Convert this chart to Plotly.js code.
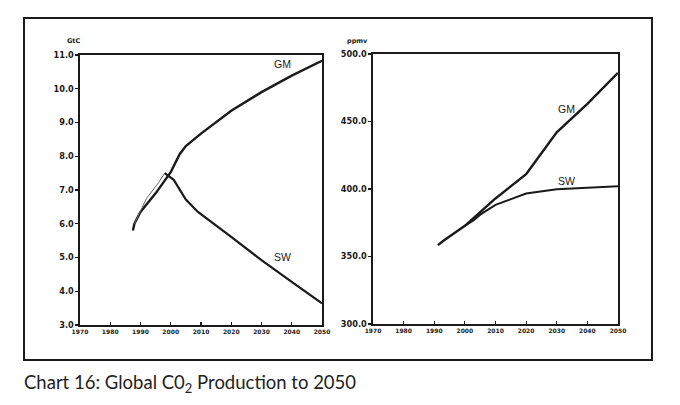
<!DOCTYPE html>
<html>
<head>
<meta charset="utf-8">
<script src="https://cdn.plot.ly/plotly-3.0.1.min.js"></script>
<style>
  html, body { margin: 0; padding: 0; background: #fff; }
  #chart { width: 680px; height: 405px; }
</style>
</head>
<body>
<div id="chart"></div>
<script>
// Left panel: emissions, GtC
var yearsGmLeft = [1987.5, 1988, 1990, 1995, 2000, 2003, 2005, 2010, 2020, 2030, 2040, 2050];
var gmLeft = [5.8, 6.0, 6.35, 6.9, 7.53, 8.07, 8.3, 8.67, 9.35, 9.9, 10.39, 10.83];
var yearsSwLeft = [1988, 1992, 1996, 1998, 2001, 2005, 2009, 2020, 2030, 2040, 2050];
var swLeft = [6.0, 6.75, 7.22, 7.5, 7.3, 6.72, 6.35, 5.61, 4.92, 4.28, 3.64];

// Right panel: concentration, ppmv
var yearsGmRight = [1991.2, 1993, 2000, 2010, 2020, 2021, 2030, 2040, 2050];
var gmRight = [358.4, 361.6, 372.7, 393, 411, 414, 442, 463, 486];
var yearsSwRight = [2000, 2003, 2005, 2010, 2020, 2030, 2040, 2050];
var swRight = [372.7, 377, 381, 388.2, 396.6, 399.8, 401, 402];

var xTicks = [1970, 1980, 1990, 2000, 2010, 2020, 2030, 2040, 2050];
var leftTicks = [3, 4, 5, 6, 7, 8, 9, 10, 11];
var rightTicks = [300, 350, 400, 450, 500];

var ink = '#1a1a1a';
var tickFamily = 'DejaVu Sans, Verdana, sans-serif';

function lineTrace(x, y, xa, ya, width, color) {
    return {
        x: x, y: y,
        xaxis: xa, yaxis: ya,
        type: 'scatter',
        mode: 'lines',
        line: { color: color || ink, width: width },
        hoverinfo: 'skip',
        showlegend: false
    };
}

var data = [
    lineTrace(yearsGmLeft, gmLeft, 'x', 'y', 2.4),
    lineTrace(yearsSwLeft.slice(0, 4), swLeft.slice(0, 4), 'x', 'y', 1, '#666'),
    lineTrace(yearsSwLeft.slice(3), swLeft.slice(3), 'x', 'y', 2.2),
    lineTrace(yearsGmRight, gmRight, 'x2', 'y2', 2.4),
    lineTrace(yearsSwRight, swRight, 'x2', 'y2', 2)
];

function xAxis(domain, anchor) {
    return {
        domain: domain, anchor: anchor,
        range: [1970, 2050],
        tickvals: xTicks,
        ticks: 'inside', ticklen: 3, tickwidth: 1.2, tickcolor: ink,
        tickfont: { family: tickFamily, size: 6, color: ink, weight: 'bold' },
        showline: true, mirror: true, linecolor: ink, linewidth: 1.6,
        showgrid: false, zeroline: false
    };
}

function yAxis(domain, anchor, range, vals) {
    return {
        domain: domain, anchor: anchor,
        range: range,
        tickvals: vals,
        tickformat: '.1f',
        ticks: 'outside', ticklen: 3, tickwidth: 1.2, tickcolor: ink,
        tickfont: { family: tickFamily, size: 8.2, color: ink, weight: 'bold' },
        showline: true, mirror: true, linecolor: ink, linewidth: 1.6,
        showgrid: false, zeroline: false
    };
}

function seriesLabel(text, x, y, xr, yr) {
    return {
        text: text, x: x, y: y, xref: xr, yref: yr,
        showarrow: false,
        font: { family: 'Liberation Sans, Arial', size: 10.5, color: ink }
    };
}

function unitLabel(text, px, py) {
    return {
        text: text, xref: 'paper', yref: 'paper',
        x: px / 680, y: 1 - py / 405,
        xanchor: 'center', yanchor: 'middle', showarrow: false,
        font: { family: tickFamily, size: 6.5, color: ink, weight: 'bold' }
    };
}

var layout = {
    width: 680, height: 405,
    margin: { l: 0, r: 0, t: 0, b: 0 },
    paper_bgcolor: '#fff', plot_bgcolor: '#fff',
    showlegend: false,
    xaxis: xAxis([0.1176, 0.4735], 'y'),
    yaxis: yAxis([0.1975, 0.8642], 'x', [3, 11], leftTicks),
    xaxis2: xAxis([0.5485, 0.9088], 'y2'),
    yaxis2: yAxis([0.2, 0.8667], 'x2', [300, 500], rightTicks),
    shapes: [{
        type: 'rect', xref: 'paper', yref: 'paper',
        x0: 0.0353, x1: 0.9588, y0: 0.1111, y1: 0.9556,
        line: { color: ink, width: 2 }
    }],
    annotations: [
        seriesLabel('GM', 2036.8, 10.74, 'x', 'y'),
        seriesLabel('SW', 2036.8, 5.02, 'x', 'y'),
        seriesLabel('GM', 2033.3, 458.9, 'x2', 'y2'),
        seriesLabel('SW', 2033.3, 405.9, 'x2', 'y2'),
        unitLabel('GtC', 73, 41),
        unitLabel('ppmv', 357, 41),
        {
            text: 'Chart 16: Global C0<sub>2</sub> Production to 2050',
            xref: 'paper', yref: 'paper',
            x: 22 / 680, y: 1 - 383 / 405, xanchor: 'left', yanchor: 'middle',
            showarrow: false,
            font: { family: 'Lato, Open Sans, sans-serif', size: 18.5, color: '#222' }
        }
    ]
};

Plotly.newPlot('chart', data, layout, { displayModeBar: false, staticPlot: true });
</script>
</body>
</html>
